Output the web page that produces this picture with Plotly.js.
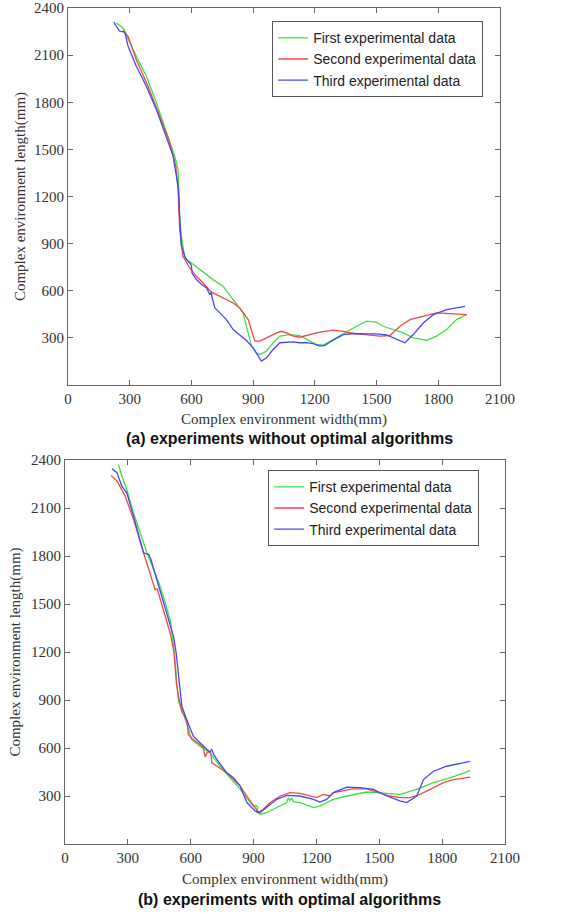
<!DOCTYPE html>
<html>
<head>
<meta charset="utf-8">
<script src="https://cdn.plot.ly/plotly-3.0.1.min.js"></script>
<style>html,body{margin:0;padding:0;background:#fff;}#chart{width:578px;height:913px;}</style>
</head>
<body>
<div id="chart"></div>
<script>
// ---- Data ----
const seriesNames = ["First experimental data", "Second experimental data", "Third experimental data"];
const seriesColors = ["#3fe03f", "#f04848", "#4848f0"];
const xTickVals = [0, 300, 600, 900, 1200, 1500, 1800, 2100];
const yTickVals = [300, 600, 900, 1200, 1500, 1800, 2100, 2400];
const captionA = "(a) experiments without optimal algorithms";
const captionB = "(b) experiments with optimal algorithms";
const xTitle = "Complex environment width(mm)";
const yTitle = "Complex environment length(mm)";

// (a) without optimal algorithms
const aFirstX = [235, 268, 316, 381, 430, 478, 519, 535, 540, 543, 551, 568, 600, 641, 705, 754, 803, 851, 892, 916, 932, 965, 997, 1030, 1078, 1127, 1176, 1208, 1241, 1289, 1354, 1403, 1451, 1500, 1532, 1581, 1630, 1678, 1743, 1792, 1841, 1889, 1938];
const aFirstY = [2305, 2273, 2135, 1965, 1796, 1606, 1457, 1372, 1181, 1060, 946, 808, 777, 735, 671, 629, 544, 459, 248, 205, 194, 216, 269, 311, 321, 315, 279, 258, 254, 290, 342, 374, 406, 400, 374, 353, 332, 300, 285, 311, 353, 416, 448];
const aSecondX = [268, 292, 332, 389, 446, 495, 524, 535, 543, 559, 592, 624, 657, 680, 690, 705, 738, 780, 803, 835, 876, 908, 932, 965, 1014, 1038, 1062, 1095, 1127, 1176, 1224, 1289, 1338, 1386, 1451, 1516, 1565, 1614, 1662, 1727, 1792, 1857, 1938];
const aSecondY = [2258, 2220, 2071, 1902, 1711, 1541, 1393, 1244, 988, 819, 745, 692, 649, 610, 600, 586, 565, 535, 522, 491, 416, 279, 279, 300, 332, 342, 332, 311, 304, 321, 336, 349, 342, 328, 321, 311, 315, 374, 416, 438, 459, 455, 448];
const aThirdX = [222, 251, 276, 292, 332, 381, 430, 478, 511, 535, 540, 543, 551, 568, 576, 592, 600, 603, 624, 650, 673, 690, 697, 700, 714, 738, 770, 803, 835, 870, 900, 940, 965, 997, 1030, 1062, 1095, 1127, 1160, 1192, 1224, 1249, 1289, 1338, 1386, 1451, 1500, 1549, 1597, 1638, 1678, 1727, 1776, 1841, 1930];
const aThirdY = [2311, 2252, 2247, 2156, 2029, 1902, 1753, 1584, 1457, 1266, 1181, 1060, 883, 819, 798, 777, 760, 713, 671, 640, 620, 575, 590, 560, 490, 459, 416, 353, 321, 280, 237, 152, 173, 226, 269, 273, 275, 269, 270, 264, 248, 252, 286, 321, 328, 326, 326, 319, 290, 269, 321, 395, 448, 480, 501];

// (b) with optimal algorithms
const bFirstX = [255, 271, 295, 327, 391, 454, 502, 522, 534, 542, 581, 605, 645, 693, 740, 788, 836, 884, 900, 910, 920, 915, 931, 963, 1011, 1058, 1066, 1074, 1082, 1090, 1122, 1186, 1217, 1281, 1345, 1440, 1520, 1599, 1679, 1758, 1838, 1934];
const bFirstY = [2373, 2300, 2216, 2070, 1820, 1611, 1402, 1200, 1000, 890, 755, 652, 610, 569, 486, 414, 341, 259, 235, 240, 230, 197, 186, 197, 228, 259, 290, 270, 288, 265, 259, 228, 238, 279, 300, 325, 318, 310, 341, 383, 414, 459];
const bSecondX = [220, 248, 287, 327, 375, 422, 430, 440, 470, 502, 520, 532, 545, 558, 581, 585, 589, 613, 645, 660, 669, 680, 693, 697, 701, 725, 772, 804, 836, 868, 899, 923, 947, 979, 1027, 1074, 1122, 1170, 1201, 1233, 1265, 1281, 1329, 1377, 1440, 1504, 1551, 1599, 1647, 1695, 1742, 1806, 1854, 1934];
const bSecondY = [2304, 2269, 2175, 2029, 1820, 1611, 1590, 1595, 1465, 1319, 1200, 1000, 900, 828, 776, 700, 683, 652, 621, 600, 545, 575, 579, 560, 507, 486, 445, 403, 362, 300, 238, 197, 217, 259, 300, 321, 317, 300, 290, 310, 300, 321, 331, 345, 345, 321, 300, 290, 290, 310, 341, 383, 403, 418];
const bThirdX = [224, 248, 271, 295, 327, 375, 399, 410, 438, 486, 518, 530, 545, 558, 581, 613, 645, 677, 690, 701, 710, 725, 772, 804, 836, 868, 907, 931, 963, 1011, 1058, 1122, 1186, 1217, 1249, 1281, 1345, 1408, 1472, 1536, 1599, 1631, 1679, 1711, 1758, 1822, 1934];
const bThirdY = [2346, 2321, 2237, 2195, 2049, 1820, 1809, 1780, 1653, 1444, 1298, 1200, 1000, 859, 776, 672, 631, 590, 575, 590, 560, 528, 445, 414, 362, 259, 207, 197, 228, 279, 304, 300, 279, 262, 279, 321, 356, 352, 341, 300, 269, 259, 300, 403, 455, 486, 517];

// ---- Build traces ----
function tr(x, y, i, xa, ya, leg) {
  return {x: x, y: y, type: 'scatter', mode: 'lines', name: seriesNames[i],
    line: {color: seriesColors[i], width: 1.3}, xaxis: xa, yaxis: ya, legend: leg};
}
const data = [
  tr(aFirstX, aFirstY, 0, 'x', 'y', 'legend'),
  tr(aSecondX, aSecondY, 1, 'x', 'y', 'legend'),
  tr(aThirdX, aThirdY, 2, 'x', 'y', 'legend'),
  tr(bFirstX, bFirstY, 0, 'x2', 'y2', 'legend2'),
  tr(bSecondX, bSecondY, 1, 'x2', 'y2', 'legend2'),
  tr(bThirdX, bThirdY, 2, 'x2', 'y2', 'legend2')
];

const W = 578, H = 913;
const serif = {family: 'Liberation Serif, Times New Roman, serif', size: 15, color: '#333'};
function xax(l, r, standoff) {
  return {domain: [l / W, r / W], range: [0, 2100], tickvals: xTickVals, ticks: 'inside', ticklen: 5,
    tickcolor: '#666', showline: true, linecolor: '#666', linewidth: 1, mirror: 'ticks', showgrid: false,
    zeroline: false, tickfont: serif, title: {text: xTitle, font: serif, standoff: standoff}};
}
function yax(t, b, anchor, standoff) {
  return {domain: [1 - b / H, 1 - t / H], range: [0, 2400], tickvals: yTickVals, ticks: 'inside', ticklen: 5,
    tickcolor: '#666', showline: true, linecolor: '#666', linewidth: 1, mirror: 'ticks', showgrid: false,
    zeroline: false, tickfont: serif, anchor: anchor, title: {text: yTitle, font: serif, standoff: standoff}};
}
const legFont = {family: 'Liberation Sans, Arial, sans-serif', size: 14, color: '#222'};
const layout = {
  width: W, height: H,
  margin: {l: 0, r: 0, t: 0, b: 0},
  paper_bgcolor: '#fff', plot_bgcolor: '#fff',
  xaxis: Object.assign(xax(68, 500, 7), {anchor: 'y'}),
  yaxis: yax(8, 385, 'x', 4),
  xaxis2: Object.assign(xax(65, 505, 8), {anchor: 'y2'}),
  yaxis2: yax(460, 844, 'x2', 6),
  legend: {x: 272 / W, y: 1 - 21 / H, xanchor: 'left', yanchor: 'top', bgcolor: '#fff',
    bordercolor: '#555', borderwidth: 1.2, font: legFont, tracegroupgap: 0},
  legend2: {x: 268 / W, y: 1 - 470 / H, xanchor: 'left', yanchor: 'top', bgcolor: '#fff',
    bordercolor: '#555', borderwidth: 1.2, font: legFont, tracegroupgap: 0},
  showlegend: true,
  annotations: [
    {text: '<b>' + captionA + '</b>', xref: 'paper', yref: 'paper', x: 289 / W, y: 1 - 439 / H,
      xanchor: 'center', yanchor: 'middle', showarrow: false,
      font: {family: 'Liberation Sans, Arial, sans-serif', size: 16, color: '#111'}},
    {text: '<b>' + captionB + '</b>', xref: 'paper', yref: 'paper', x: 289 / W, y: 1 - 899 / H,
      xanchor: 'center', yanchor: 'middle', showarrow: false,
      font: {family: 'Liberation Sans, Arial, sans-serif', size: 16, color: '#111'}}
  ]
};
Plotly.newPlot('chart', data, layout, {displayModeBar: false, staticPlot: true});
</script>
</body>
</html>
